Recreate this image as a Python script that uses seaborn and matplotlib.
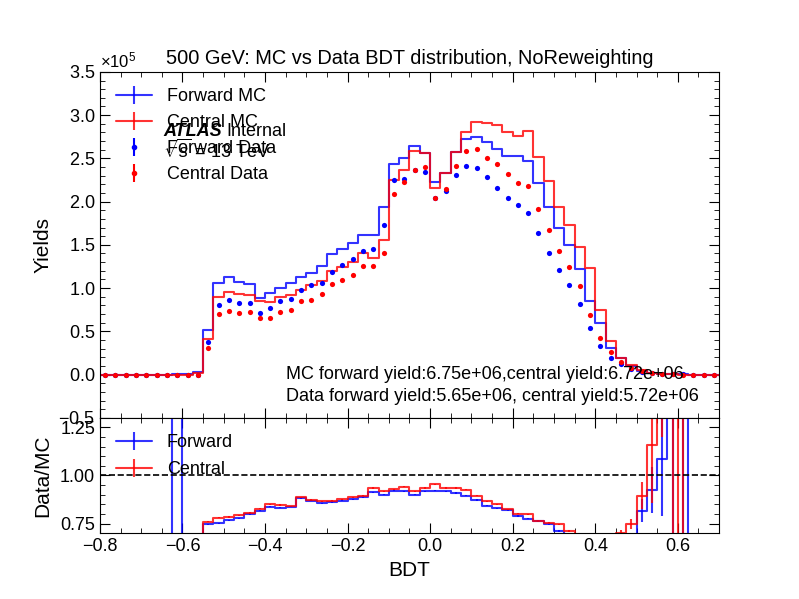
import numpy as np
import pandas as pd
import matplotlib
matplotlib.use("Agg")
import matplotlib.pyplot as plt
from matplotlib.ticker import AutoMinorLocator, MultipleLocator
import seaborn as sns

# ---------------- data ----------------
bin_lo = -0.8
bin_hi = 0.7
n_bins = 60

# MC yields, units of 1e5
forward_mc = [0, 0, 0, 0, 0, 0, 0, 0.002, 0.005, 0.03,
              0.51, 1.063, 1.128, 1.07, 1.05, 0.884, 0.94, 1.0, 1.058, 1.128,
              1.178, 1.25, 1.39, 1.456, 1.52, 1.61, 1.61, 1.94, 2.44, 2.5,
              2.64, 2.565, 2.23, 2.326, 2.57, 2.72, 2.743, 2.685, 2.604, 2.53,
              2.53, 2.472, 2.21, 1.939, 1.7, 1.495, 1.225, 0.849, 0.6, 0.309,
              0.19, 0.1, 0.045, 0.015, 0.005, 0.002, 0.001, 0, 0, 0]
central_mc = [0, 0, 0, 0, 0, 0, 0, 0, 0, 0.02,
              0.41, 0.896, 0.954, 0.927, 0.915, 0.846, 0.838, 0.896, 0.923, 0.973,
              1.031, 1.08, 1.197, 1.243, 1.301, 1.41, 1.348, 1.56, 2.248, 2.364,
              2.59, 2.557, 2.159, 2.326, 2.57, 2.808, 2.924, 2.905, 2.885, 2.80,
              2.76, 2.82, 2.518, 2.24, 1.939, 1.735, 1.48, 1.235, 0.75, 0.39,
              0.19, 0.11, 0.05, 0.02, 0.008, 0.003, 0, 0, 0, 0]
# Data yields, units of 1e5
forward_data = [0, 0, 0, 0, 0, 0, 0, 0, 0, 0,
                0.371, 0.8, 0.857, 0.823, 0.823, 0.717, 0.772, 0.846, 0.877, 0.981,
                1.031, 1.06, 1.188, 1.263, 1.333, 1.425, 1.456, 1.735, 2.248, 2.267,
                2.364, 2.337, 2.04, 2.12, 2.305, 2.41, 2.383, 2.279, 2.163, 2.047,
                1.958, 1.873, 1.642, 1.41, 1.213, 1.031, 0.811, 0.543, 0.336, 0.193,
                0.122, 0.06, 0.035, 0.015, 0.007, 0.003, 0.001, 0, 0, 0]
central_data = [0, 0, 0, 0, 0, 0, 0, 0, 0, 0,
                0.309, 0.695, 0.738, 0.707, 0.718, 0.649, 0.657, 0.726, 0.75, 0.846,
                0.865, 0.93, 1.043, 1.09, 1.147, 1.251, 1.253, 1.41, 2.086, 2.224,
                2.367, 2.395, 2.04, 2.15, 2.41, 2.588, 2.607, 2.5, 2.433, 2.317,
                2.21, 2.178, 1.92, 1.669, 1.429, 1.243, 1.02, 0.684, 0.423, 0.26,
                0.143, 0.08, 0.04, 0.02, 0.01, 0.005, 0, 0, 0, 0]

# Data/MC ratio and its uncertainty
forward_ratio = [0, 0, 0, 0, 0, 0, 0, 8.0, 0, 0,
                 0.746, 0.751, 0.767, 0.777, 0.798, 0.816, 0.837, 0.833, 0.837, 0.882,
                 0.868, 0.856, 0.860, 0.868, 0.877, 0.886, 0.912, 0.900, 0.92, 0.918,
                 0.90, 0.918, 0.921, 0.918, 0.909, 0.895, 0.872, 0.842, 0.830, 0.819,
                 0.789, 0.775, 0.763, 0.746, 0.711, 0.69, 0.66, 0.64, 0.56, 0.62,
                 0.64, 0.62, 0.816, 0.926, 1.088, 1.8, 2.0, 0, 0, 0]
forward_ratio_err = [0, 0, 0, 0, 0, 0, 0, 1.0, 0, 0,
                     0.004, 0.003, 0.003, 0.003, 0.003, 0.003, 0.003, 0.003, 0.003, 0.003,
                     0.003, 0.003, 0.003, 0.003, 0.003, 0.003, 0.003, 0.003, 0.003, 0.003,
                     0.003, 0.003, 0.003, 0.003, 0.003, 0.003, 0.003, 0.003, 0.003, 0.003,
                     0.003, 0.003, 0.003, 0.003, 0.004, 0.004, 0.005, 0.006, 0.008, 0.01,
                     0.015, 0.03, 0.06, 0.12, 0.3, 1.5, 2.0, 0, 0, 0]
central_ratio = [0, 0, 0, 0, 0, 0, 0, 0, 0, 0,
                 0.760, 0.781, 0.784, 0.793, 0.807, 0.828, 0.851, 0.846, 0.840, 0.886,
                 0.872, 0.865, 0.868, 0.877, 0.886, 0.895, 0.935, 0.918, 0.928, 0.942,
                 0.918, 0.935, 0.953, 0.935, 0.935, 0.925, 0.895, 0.865, 0.851, 0.825,
                 0.802, 0.798, 0.763, 0.754, 0.746, 0.711, 0.69, 0.56, 0.56, 0.67,
                 0.70, 0.746, 0.895, 1.158, 1.7, 2.0, 0, 0, 0, 0]
central_ratio_err = [0, 0, 0, 0, 0, 0, 0, 0, 0, 0,
                     0.004, 0.003, 0.003, 0.003, 0.003, 0.003, 0.003, 0.003, 0.003, 0.003,
                     0.003, 0.003, 0.003, 0.003, 0.003, 0.003, 0.003, 0.003, 0.003, 0.003,
                     0.003, 0.003, 0.003, 0.003, 0.003, 0.003, 0.003, 0.003, 0.003, 0.003,
                     0.003, 0.003, 0.003, 0.003, 0.004, 0.004, 0.005, 0.006, 0.008, 0.01,
                     0.015, 0.025, 0.07, 0.3, 0.5, 1.8, 1.5, 0, 0, 0]

title = "500 GeV: MC vs Data BDT distribution, NoReweighting"
mc_text = "MC forward yield:6.75e+06,central yield:6.72e+06"
data_text = "Data forward yield:5.65e+06, central yield:5.72e+06"

# ---------------- style ----------------
sns.set_style("ticks")
plt.rcParams["font.family"] = ["Liberation Sans", "DejaVu Sans"]
plt.rcParams.update({
    "text.color": "black", "axes.labelcolor": "black", "axes.edgecolor": "black",
    "xtick.color": "black", "ytick.color": "black",
    "xtick.direction": "in", "ytick.direction": "in",
    "xtick.top": True, "ytick.right": True,
    "xtick.minor.visible": True, "ytick.minor.visible": True,
    "xtick.major.size": 7, "ytick.major.size": 7,
    "xtick.minor.size": 3.5, "ytick.minor.size": 3.5,
    "xtick.labelsize": 13, "ytick.labelsize": 13,
    "axes.labelsize": 15, "axes.titlesize": 14.4,
    "mathtext.fontset": "custom", "mathtext.rm": "Liberation Sans",
    "mathtext.it": "Liberation Sans:italic",
})

BLUE = "blue"
RED = "red"

edges = np.linspace(bin_lo, bin_hi, n_bins + 1)
edge_list = [float(e) for e in edges]
centers = 0.5 * (edges[:-1] + edges[1:])
df = pd.DataFrame({
    "x": centers,
    "fmc": np.array(forward_mc) * 1e5, "cmc": np.array(central_mc) * 1e5,
    "fdata": np.array(forward_data) * 1e5, "cdata": np.array(central_data) * 1e5,
    "fr": forward_ratio, "cr": central_ratio,
    "fre": forward_ratio_err, "cre": central_ratio_err,
})

fig = plt.figure(figsize=(7.99, 5.99), dpi=100)
gs = fig.add_gridspec(2, 1, height_ratios=[3, 1], hspace=0)
ax = fig.add_subplot(gs[0])
rax = fig.add_subplot(gs[1], sharex=ax)

# ---------------- main panel ----------------
sns.histplot(data=df, x="x", weights="fmc", bins=edge_list, element="step", fill=False,
             color=BLUE, alpha=0.8, linewidth=1.5, ax=ax)
sns.histplot(data=df, x="x", weights="cmc", bins=edge_list, element="step", fill=False,
             color=RED, alpha=0.8, linewidth=1.5, ax=ax)
sns.scatterplot(data=df, x="x", y="fdata", color=BLUE, s=14, linewidth=0, ax=ax, zorder=3)
sns.scatterplot(data=df, x="x", y="cdata", color=RED, s=14, linewidth=0, ax=ax, zorder=3)

# legend proxies
h1 = ax.errorbar([], [], yerr=[], color=BLUE, alpha=0.8, lw=1.5, label="Forward MC")
h2 = ax.errorbar([], [], yerr=[], color=RED, alpha=0.8, lw=1.5, label="Central MC")
h3 = ax.errorbar([], [], yerr=[], fmt="o", ms=3, color=BLUE, label="Forward Data")
h4 = ax.errorbar([], [], yerr=[], fmt="o", ms=3, color=RED, label="Central Data")
ax.legend(handles=[h1, h2, h3, h4], loc="upper left", frameon=False, fontsize=13)

ax.set_xlim(bin_lo, bin_hi)
ax.set_ylim(-0.5e5, 3.5e5)
ax.yaxis.set_major_locator(MultipleLocator(0.5e5))
ax.yaxis.set_minor_locator(AutoMinorLocator(5))
ax.ticklabel_format(axis="y", style="sci", scilimits=(0, 0), useMathText=True)
ax.yaxis.get_offset_text().set_fontsize(12)
ax.set_ylabel("Yields")
ax.set_xlabel("")
ax.tick_params(labelbottom=False)
ax.set_title(title)

ax.text(0.102, 0.828, "ATLAS", transform=ax.transAxes, fontsize=13,
        fontweight="bold", fontstyle="italic", va="center")
ax.text(0.205, 0.828, "Internal", transform=ax.transAxes, fontsize=13, va="center")
ax.text(0.102, 0.773, r"$\sqrt{s}$ = 13 TeV", transform=ax.transAxes, fontsize=13, va="center")
ax.text(0.30, 0.125, mc_text, transform=ax.transAxes, fontsize=13, va="center")
ax.text(0.30, 0.061, data_text, transform=ax.transAxes, fontsize=13, va="center")

# ---------------- ratio panel ----------------
sns.histplot(data=df, x="x", weights="fr", bins=edge_list, element="step", fill=False,
             color=BLUE, alpha=0.8, linewidth=1.5, ax=rax)
sns.histplot(data=df, x="x", weights="cr", bins=edge_list, element="step", fill=False,
             color=RED, alpha=0.8, linewidth=1.5, ax=rax)
rax.errorbar(df["x"], df["fr"], yerr=df["fre"], fmt="none", ecolor=BLUE, alpha=0.8, elinewidth=1.5)
rax.errorbar(df["x"], df["cr"], yerr=df["cre"], fmt="none", ecolor=RED, alpha=0.8, elinewidth=1.5)
rax.axhline(1.0, color="black", ls="--", lw=1.2)

r1 = rax.errorbar([], [], yerr=[], color=BLUE, alpha=0.8, lw=1.5, label="Forward")
r2 = rax.errorbar([], [], yerr=[], color=RED, alpha=0.8, lw=1.5, label="Central")
rax.legend(handles=[r1, r2], loc="upper left", frameon=False, fontsize=13,
           borderaxespad=0.5, labelspacing=0.55)

rax.set_ylim(0.7, 1.3)
rax.yaxis.set_major_locator(MultipleLocator(0.25))
rax.yaxis.set_minor_locator(AutoMinorLocator(5))
rax.xaxis.set_major_locator(MultipleLocator(0.2))
rax.xaxis.set_minor_locator(AutoMinorLocator(4))
rax.set_xlim(bin_lo, bin_hi)
rax.set_ylabel("Data/MC")
rax.set_xlabel("BDT")

fig.subplots_adjust(left=0.125, right=0.9, top=0.88, bottom=0.11)
fig.align_ylabels([ax, rax])
fig.savefig("out.png", dpi=100)
